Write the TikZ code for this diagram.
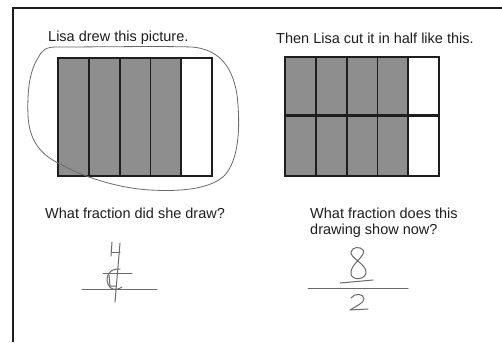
\documentclass[tikz,border=0pt]{standalone}
\usepackage{fontspec}
\setmainfont{Liberation Sans}
\definecolor{cellgray}{HTML}{8E8E8E}
\definecolor{ink}{HTML}{1E1E1E}
\definecolor{pencil}{HTML}{6A6A6A}
\begin{document}
\begin{tikzpicture}[x=1pt,y=-1pt,
  lbl/.style={font=\fontsize{14.5}{18}\selectfont, text=ink, inner sep=0pt},
  cell/.style={draw=ink, line width=1.8pt},
  hand/.style={draw=pencil, line width=1pt, line cap=round, line join=round}]
\useasboundingbox (0,0) rectangle (502,342);
\fill[white] (0,0) rectangle (502,342);
% frame
\draw[ink, line width=1.8pt] (13,342) -- (13,8) -- (502,8);
% texts
\node[lbl, anchor=west] (t1) at (48,38) {Lisa drew this picture.};
\node[lbl, anchor=west] (t2) at (276,38) {Then Lisa cut it in half like this.};
\node[lbl, anchor=west] (q1) at (45,213) {What fraction did she draw?};
\node[lbl, anchor=west] (q2a) at (310,213) {What fraction does this};
\node[lbl, anchor=west] (q2b) at (310,231) {drawing show now?};
% left picture
\foreach \i in {0,1,2,3} {
  \fill[cellgray] (58+30.8*\i,58) rectangle (58+30.8*\i+30.8,176);
}
\draw[cell] (58,58) rectangle (212,176);
\foreach \i in {1,2,3,4} { \draw[cell] (58+30.8*\i,58) -- (58+30.8*\i,176); }
% right picture
\foreach \i in {0,1,2,3} {
  \fill[cellgray] (285+30.8*\i,57) rectangle (285+30.8*\i+30.8,176);
}
\draw[cell] (285,57) rectangle (439,176);
\foreach \i in {1,2,3,4} { \draw[cell] (285+30.8*\i,57) -- (285+30.8*\i,176); }
\draw[ink, line width=3pt] (285,115.5) -- (439,115.5);
% loop around left picture
\draw[hand, line width=0.8pt] (38,58) .. controls (42,50) and (46,47) .. (56,47)
  .. controls (100,47) and (160,46) .. (192,47)
  .. controls (215,49) and (232,62) .. (237,95)
  .. controls (241,130) and (238,160) .. (225,175)
  .. controls (212,188) and (185,192) .. (150,190)
  .. controls (115,188) and (80,175) .. (62,165)
  .. controls (40,155) and (29,140) .. (28,115)
  .. controls (27,90) and (30,70) .. (38,58);
% left fraction
\draw[hand] (82,289) -- (157,289);
\draw[hand] (120,243) -- (115,302);
\draw[hand] (103,273) -- (132,273);
\draw[hand] (112,242) -- (111,256);
\draw[hand] (112,252) -- (120,252);
\draw[hand] (120,269) .. controls (110,268) and (105,276) .. (108,284) .. controls (110,290) and (116,291) .. (122,287);
\draw[hand] (109,275) -- (110,286) -- (116,286);
% right fraction
\draw[hand] (308,288) -- (408,288);
\draw[hand] (340,283) -- (373,280);
\draw[hand] (363,250) .. controls (360,246) and (352,247) .. (351,252)
  .. controls (350,258) and (366,264) .. (366,272)
  .. controls (366,280) and (352,281) .. (351,274)
  .. controls (350,266) and (360,260) .. (363,254)
  .. controls (364,252) and (364,250) .. (363,250);
\draw[hand] (351,298) .. controls (354,293) and (364,293) .. (364,299)
  .. controls (364,303) and (356,306) .. (350,310) -- (368,309);
\end{tikzpicture}
\end{document}
